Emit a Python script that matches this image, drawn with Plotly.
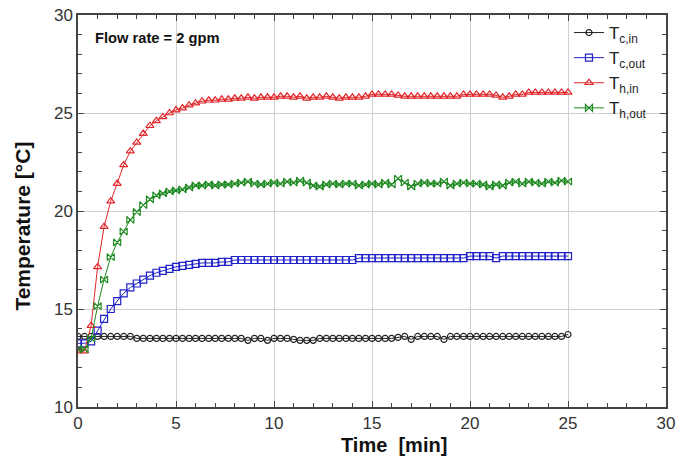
import plotly.graph_objects as go

time_min = [0.0, 0.33, 0.67, 1.0, 1.33, 1.67, 2.0, 2.33, 2.67, 3.0, 3.33, 3.67, 4.0, 4.33, 4.67,
            5.0, 5.33, 5.67, 6.0, 6.33, 6.67, 7.0, 7.33, 7.67, 8.0, 8.33, 8.67, 9.0, 9.33, 9.67,
            10.0, 10.33, 10.67, 11.0, 11.33, 11.67, 12.0, 12.33, 12.67, 13.0, 13.33, 13.67, 14.0, 14.33, 14.67,
            15.0, 15.33, 15.67, 16.0, 16.33, 16.67, 17.0, 17.33, 17.67, 18.0, 18.33, 18.67, 19.0, 19.33, 19.67,
            20.0, 20.33, 20.67, 21.0, 21.33, 21.67, 22.0, 22.33, 22.67, 23.0, 23.33, 23.67, 24.0, 24.33, 24.67,
            25.0]

t_c_in = [13.6, 13.6, 13.6, 13.6, 13.6, 13.6, 13.6, 13.6, 13.6, 13.5, 13.5, 13.5, 13.5, 13.5, 13.5,
          13.5, 13.5, 13.5, 13.5, 13.5, 13.5, 13.5, 13.5, 13.5, 13.5, 13.5, 13.4, 13.5, 13.5, 13.4,
          13.5, 13.5, 13.5, 13.45, 13.4, 13.4, 13.4, 13.5, 13.5, 13.5, 13.5, 13.5, 13.5, 13.5, 13.5,
          13.5, 13.5, 13.5, 13.5, 13.55, 13.6, 13.45, 13.6, 13.6, 13.6, 13.6, 13.45, 13.6, 13.6, 13.6,
          13.6, 13.6, 13.6, 13.6, 13.6, 13.6, 13.6, 13.6, 13.6, 13.6, 13.6, 13.6, 13.6, 13.6, 13.6,
          13.7]

t_c_out = [13.25, 13.25, 13.35, 13.9, 14.5, 15.0, 15.4, 15.8, 16.1, 16.3, 16.5, 16.7, 16.85, 16.95, 17.05,
           17.15, 17.2, 17.25, 17.3, 17.35, 17.35, 17.35, 17.4, 17.4, 17.5, 17.5, 17.5, 17.5, 17.5, 17.5,
           17.5, 17.5, 17.5, 17.5, 17.5, 17.5, 17.5, 17.5, 17.5, 17.5, 17.5, 17.5, 17.5, 17.6, 17.6,
           17.6, 17.6, 17.6, 17.6, 17.6, 17.6, 17.6, 17.6, 17.6, 17.6, 17.6, 17.6, 17.6, 17.6, 17.6,
           17.7, 17.7, 17.7, 17.7, 17.6, 17.7, 17.7, 17.7, 17.7, 17.7, 17.7, 17.7, 17.7, 17.7, 17.7,
           17.7]

t_h_in = [12.85, 12.85, 14.15, 17.15, 19.2, 20.5, 21.4, 22.35, 23.05, 23.5, 23.95, 24.35, 24.6, 24.8, 25.0,
          25.15, 25.25, 25.4, 25.5, 25.6, 25.65, 25.65, 25.7, 25.7, 25.75, 25.75, 25.8, 25.75, 25.8, 25.8,
          25.8, 25.85, 25.85, 25.8, 25.85, 25.75, 25.8, 25.8, 25.85, 25.8, 25.75, 25.8, 25.8, 25.8, 25.85,
          25.95, 25.95, 25.95, 25.95, 25.9, 25.85, 25.85, 25.85, 25.85, 25.85, 25.85, 25.85, 25.85, 25.85, 25.95,
          25.95, 25.95, 25.95, 25.95, 25.9, 25.8, 25.85, 25.95, 25.95, 26.05, 26.05, 26.05, 26.05, 26.05, 26.05,
          26.05]

t_h_out = [12.95, 12.95, 13.5, 15.15, 16.5, 17.65, 18.4, 18.95, 19.55, 19.95, 20.3, 20.6, 20.8, 20.9, 21.0,
           21.05, 21.1, 21.2, 21.3, 21.3, 21.35, 21.3, 21.35, 21.35, 21.4, 21.45, 21.5, 21.4, 21.35, 21.4,
           21.45, 21.4, 21.5, 21.45, 21.55, 21.45, 21.3, 21.25, 21.35, 21.4, 21.35, 21.4, 21.4, 21.3, 21.35,
           21.4, 21.35, 21.45, 21.35, 21.65, 21.45, 21.25, 21.4, 21.45, 21.4, 21.4, 21.5, 21.3, 21.4, 21.45,
           21.4, 21.4, 21.35, 21.25, 21.35, 21.3, 21.45, 21.5, 21.4, 21.5, 21.45, 21.4, 21.5, 21.45, 21.55,
           21.5]

series_names = ["T<sub>c,in</sub>", "T<sub>c,out</sub>", "T<sub>h,in</sub>", "T<sub>h,out</sub>"]
series_values = [t_c_in, t_c_out, t_h_in, t_h_out]
series_colors = ["#222222", "#1f22c8", "#e0262a", "#1f8a22"]
series_symbols = ["circle-open", "square-open", "triangle-up-open", "bowtie-open"]
series_sizes = [6, 7, 7, 7]

FONT = "Arial, Liberation Sans, sans-serif"

fig = go.Figure()
for name, vals, col, sym, sz in zip(series_names, series_values, series_colors, series_symbols, series_sizes):
    fig.add_trace(go.Scatter(
        x=time_min, y=vals, name=name, mode="lines+markers",
        line=dict(color=col, width=1),
        marker=dict(symbol=sym, size=sz, color=col, line=dict(color=col, width=1.2)),
    ))

axis_common = dict(
    showline=True, linecolor="#444", linewidth=1.5, mirror="allticks",
    ticks="inside", ticklen=6, tickcolor="#444", tickwidth=1,
    showgrid=True, gridcolor="#cfcfcf", gridwidth=1,
    zeroline=False, automargin=False, ticklabeloverflow="allow",
    tickfont=dict(family=FONT, size=17, color="#333"),
)

fig.update_xaxes(range=[0, 30], dtick=5, tick0=0,
                 minor=dict(ticks="inside", dtick=1, ticklen=4, tickcolor="#444", showgrid=False),
                 **axis_common)
fig.update_yaxes(range=[10, 30], dtick=5, tick0=10,
                 minor=dict(ticks="inside", dtick=1, ticklen=4, tickcolor="#444", showgrid=False),
                 **axis_common)

fig.add_annotation(x=0.0255, y=0.941, xref="paper", yref="paper", xanchor="left", yanchor="middle",
                   text="<b>Flow rate = 2 gpm</b>", showarrow=False,
                   font=dict(family=FONT, size=14.7, color="#111"))
fig.add_annotation(x=0.537, y=-0.097, xref="paper", yref="paper", xanchor="center", yanchor="middle",
                   text="<b>Time\u00a0 [min]</b>", showarrow=False,
                   font=dict(family=FONT, size=20, color="#111"))
fig.add_annotation(x=-0.094, y=0.462, xref="paper", yref="paper", xanchor="center", yanchor="middle",
                   text="<b>Temperature [°C]</b>", showarrow=False, textangle=-90,
                   font=dict(family=FONT, size=21, color="#111"))

fig.update_layout(
    width=676, height=457,
    margin=dict(l=78, r=10, t=15, b=50),
    plot_bgcolor="white", paper_bgcolor="white",
    font=dict(family=FONT, color="#222"),
    legend=dict(x=0.835, y=1.0, xanchor="left", yanchor="top", bgcolor="rgba(0,0,0,0)",
                font=dict(family=FONT, size=17, color="#222"), tracegroupgap=0),
    showlegend=True,
)

# remove the default 8px page margin so the figure fills the window exactly
fig.write_html("out.html", config={"displayModeBar": False},
               post_script="document.body.style.margin='0px';document.body.style.overflow='hidden';")
